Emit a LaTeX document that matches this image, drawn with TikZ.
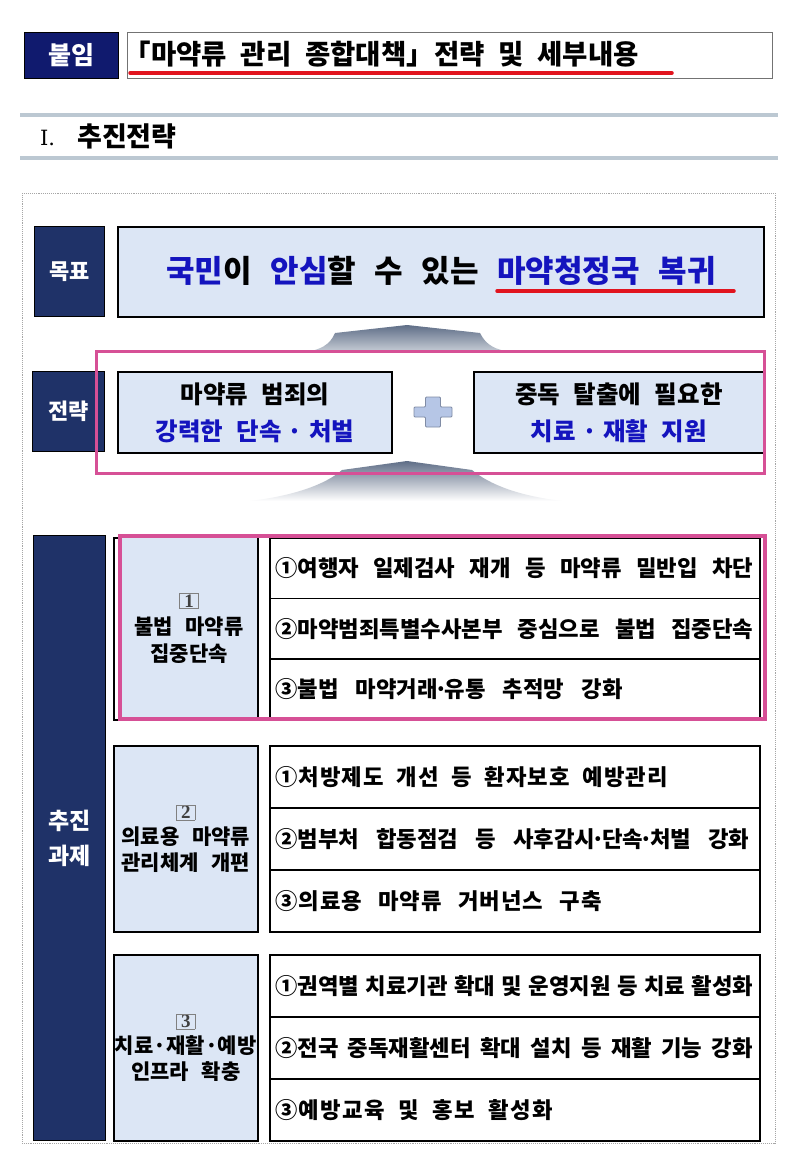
\documentclass[tikz,border=0pt]{standalone}
\usepackage{fontspec}
\setmainfont{Noto Sans CJK KR}
\newfontfamily\serifdigit{Liberation Serif}
\newfontfamily\romanfont{DejaVu Serif}
\usetikzlibrary{calc}
\definecolor{navy}{RGB}{31,50,104}
\definecolor{hdnavy}{RGB}{16,26,110}
\definecolor{lightblue}{RGB}{220,230,245}
\definecolor{bluetxt}{RGB}{20,20,190}
\definecolor{pinkline}{RGB}{214,80,150}
\definecolor{redline}{RGB}{225,20,30}
\definecolor{ruleg}{RGB}{188,200,210}
\definecolor{arrowdark}{RGB}{95,110,135}
\definecolor{arrowlight}{RGB}{200,206,215}
\definecolor{plusfill}{RGB}{182,198,230}
\definecolor{plusdraw}{RGB}{128,140,165}
\newcommand\numsq[1]{{\setlength{\fboxsep}{1pt}\setlength{\fboxrule}{0.7pt}\fcolorbox{gray}{lightblue}{\color{black!75}\serifdigit\fontsize{19}{19}\selectfont\,#1\,}}}
\newcommand\bt[1]{\textcolor{bluetxt}{#1}}
\newcommand\wsp[1]{\spaceskip=#1em\relax}
\newcommand\ls[2]{\addfontfeature{LetterSpace=#1}\wsp{#2}}
\newcommand\dotsep{\hspace{0.25em}·\hspace{0.25em}}
\newcommand\md{\kern-0.15em·\kern-0.15em}
\begin{document}
\begin{tikzpicture}[x=1pt,y=-1pt,
  lbl/.style={draw=black, line width=1.2pt, fill=navy, text=white, inner sep=0pt,
    font=\bfseries\fontsize{22}{24}\selectfont, anchor=north west, align=center},
  lbox/.style={draw=black, line width=1.8pt, fill=lightblue, anchor=north west, inner sep=0pt},
  grp/.style={draw=black, line width=1.5pt, fill=lightblue, anchor=north west, inner sep=0pt,
    minimum width=144, align=center, font=\bfseries\fontsize{21}{26}\selectfont\wsp{0.6}},
  itemrow/.style={draw=black, line width=1.5pt, fill=white, anchor=north west,
    minimum width=490, inner sep=0pt},
  itemtxt/.style={anchor=west, inner sep=0pt, font=\bfseries\fontsize{22.3}{26}\selectfont\wsp{#1}},
  itemtxt/.default=0.65,
  pinkbox/.style={draw=pinkline, line width=3pt},
  uline/.style={draw=redline, line width=3.5pt, line cap=round}
]
\useasboundingbox[fill=white] (0,0) rectangle (800,1164);

% header
\node[lbl, fill=hdnavy, minimum width=94, minimum height=46, font=\bfseries\fontsize{25}{26}\selectfont] (att) at (24,32) {붙임};
\node[draw=black!55, line width=1pt, minimum width=645, minimum height=46, anchor=north west] (titlebox) at (127,32) {};
\node[anchor=west, inner sep=0pt, font=\bfseries\fontsize{27.5}{27}\selectfont\wsp{0.5}] (title) at (136,54) {\hspace{-0.45em}「마약류 관리 종합대책」\hspace{-0.5em} 전략 및 세부내용};
\draw[uline] (130,73) -- (672,73);

\draw[ruleg, line width=3.5pt] (20,115) -- (778,115);
\draw[ruleg, line width=3.5pt] (20,158) -- (778,158);
\node[anchor=west, inner sep=0pt, font=\romanfont\fontsize{21}{21}\selectfont] (rn) at (40,138) {Ⅰ.};
\node[anchor=west, inner sep=0pt, font=\bfseries\fontsize{27}{27}\selectfont] (sec) at (77,136) {추진전략};

% outer frame
\draw[black!35, line width=0.9pt, densely dotted] (22,193) rectangle (775,1143);

% arrows
\shade[top color=arrowdark, bottom color=arrowlight]
  (407,325) -- (480,333) .. controls (486,345) and (495,350) .. (512,352)
  -- (305,352) .. controls (320,350) and (330,345) .. (335,333) -- cycle;
\shade[top color=arrowdark, bottom color=white]
  (407,461) -- (472,470) .. controls (490,485) and (520,496) .. (562,501)
  -- (250,501) .. controls (292,496) and (325,485) .. (342,470) -- cycle;

% goal
\node[lbl, minimum width=70, minimum height=90] (goallbl) at (34,226) {목표};
\node[lbox, minimum width=646, minimum height=90] (goal) at (117,226) {};
\node[inner sep=0pt, font=\bfseries\fontsize{31}{31}\selectfont\wsp{0.6}] (goaltxt) at (441,271) {\bt{국민}이 \bt{안심}할 수 있는 \bt{마약청정국 복귀}};
\draw[uline] (497,291) -- (734,291);

% strategy
\node[lbl, minimum width=72, minimum height=80] (stratlbl) at (32,371) {전략};
\node[lbox, minimum width=274, minimum height=81, align=center, font=\bfseries\fontsize{24.5}{37}\selectfont\wsp{0.55}] (s1) at (117,371) {마약류 범죄의\\\bt{강력한 단속\dotsep{}처벌}};
\node[lbox, minimum width=290, minimum height=81, align=center, font=\bfseries\fontsize{24.5}{37}\selectfont\wsp{0.55}] (s2) at (473,371) {중독 탈출에 필요한\\\bt{치료\dotsep{}재활 지원}};
\filldraw[fill=plusfill, draw=plusdraw, line width=0.8pt, rounded corners=1pt]
  (425.5,397) -- (440.5,397) -- (440.5,407) -- (452,407) -- (452,417) -- (440.5,417)
  -- (440.5,427) -- (425.5,427) -- (425.5,417) -- (414,417) -- (414,407) -- (425.5,407) -- cycle;
\draw[pinkbox] (96,351) rectangle (764,473);

% tasks label
\node[lbl, minimum width=72, minimum height=605, font=\bfseries\fontsize{23}{35}\selectfont] (task) at (33,535) {추진\\과제};

% group 1
\node[grp, fill=white, minimum height=182] (g1frame) at (113,537) {};
\fill[lightblue] (120,537) rectangle (257,719);
\node[inner sep=0pt, align=center, font=\bfseries\fontsize{21}{27}\selectfont\wsp{0.6}] (g1) at (189,628) {\numsq{1}\\불법 마약류\\집중단속};
\node[itemrow, minimum height=60.7] (r11) at (269,537) {};
\node[itemrow, minimum height=60.7] (r12) at (269,597.7) {};
\node[itemrow, minimum height=60.7] (r13) at (269,658.3) {};
\node[itemtxt=0.646] (t11) at ($(r11.west)+(6,0)$) {①여행자 일제검사 재개 등 마약류 밀반입 차단};
\node[itemtxt=0.68] (t12) at ($(r12.west)+(6,0)$) {②마약범죄특별수사본부 중심으로 불법 집중단속};
\node[itemtxt=0.77] (t13) at ($(r13.west)+(6,0)$) {③불법 마약거래\md{}유통 추적망 강화};
\draw[pinkbox, line width=3.5pt] (120,536) rectangle (765,719);

% group 2
\node[grp, minimum height=186] (g2) at (113,745) {\numsq{2}\\의료용 마약류\\관리체계 개편};
\node[itemrow, minimum height=62] (r21) at (269,745) {};
\node[itemrow, minimum height=62] (r22) at (269,807) {};
\node[itemrow, minimum height=62] (r23) at (269,869) {};
\node[itemtxt] (t21) at ($(r21.west)+(6,0)$) {\ls{4.5}{0.58}①처방제도 개선 등 환자보호 예방관리};
\node[itemtxt=0.77] (t22) at ($(r22.west)+(6,0)$) {②범부처 합동점검 등 사후감시\md{}단속\md{}처벌 강화};
\node[itemtxt] (t23) at ($(r23.west)+(6,0)$) {\ls{4.5}{0.735}③의료용 마약류 거버넌스 구축};

% group 3
\node[grp, minimum height=186] (g3) at (113,954) {\numsq{3}\\치료·재활·예방\\인프라 확충};
\node[itemrow, minimum height=62] (r31) at (269,954) {};
\node[itemrow, minimum height=62] (r32) at (269,1016) {};
\node[itemrow, minimum height=62] (r33) at (269,1078) {};
\node[itemtxt=0.29] (t31) at ($(r31.west)+(6,0)$) {①권역별 치료기관 확대 및 운영지원 등 치료 활성화};
\node[itemtxt=0.42] (t32) at ($(r32.west)+(6,0)$) {②전국 중독재활센터 확대 설치 등 재활 기능 강화};
\node[itemtxt] (t33) at ($(r33.west)+(6,0)$) {\ls{6.3}{0.6}③예방교육 및 홍보 활성화};
\end{tikzpicture}
\end{document}
